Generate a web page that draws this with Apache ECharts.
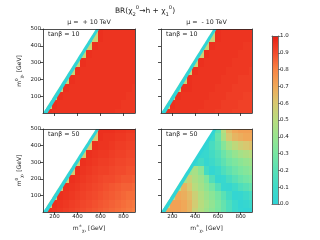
<!DOCTYPE html>
<html><head><meta charset="utf-8">
<script src="https://cdn.jsdelivr.net/npm/echarts@6/dist/echarts.min.js"></script>
<style>html,body{margin:0;padding:0;background:#fff}#c{width:320px;height:240px}</style>
</head><body><div id="c"></div>
<script>
// ---- data ----
const N = null;
const xs = [100,150,200,250,300,350,400,450,500,550,600,650,700,750,800,850,900]; // m_chi± cell centres [GeV]
const ys = [0,50,100,150,200,250,300,350,400,450,500];                              // m_chi1^0 cell centres [GeV]
const xTicks = [200,400,600,800];
const yTicks = [100,200,300,400,500];
const cbTicks = [0,0.1,0.2,0.3,0.4,0.5,0.6,0.7,0.8,0.9,1.0];
const kinEdge = [[100,0],[560,500]];   // kinematic edge (white region to the left)
const zeroEdge = [[140,0],[590,500]];  // BR = 0 strip between kinEdge and this line

// rows bottom (y=0) -> top (y=500)
const valsTL = [
 [0,0.96,0.95,0.95,0.95,0.95,0.95,0.95,0.95,0.95,0.95,0.95,0.95,0.94,0.94,0.94,0.94],
 [N,0.55,0.96,0.95,0.95,0.95,0.95,0.95,0.95,0.95,0.95,0.95,0.95,0.95,0.94,0.94,0.94],
 [N,N,0.55,0.96,0.95,0.95,0.95,0.95,0.95,0.95,0.95,0.95,0.95,0.95,0.95,0.94,0.94],
 [N,N,0,0.55,0.96,0.95,0.95,0.95,0.95,0.95,0.95,0.95,0.95,0.95,0.95,0.95,0.94],
 [N,N,N,0,0.55,0.96,0.95,0.95,0.95,0.95,0.95,0.95,0.95,0.95,0.95,0.95,0.95],
 [N,N,N,N,0,0.55,0.96,0.95,0.95,0.95,0.95,0.95,0.95,0.95,0.95,0.95,0.95],
 [N,N,N,N,N,0,0.55,0.96,0.95,0.95,0.95,0.95,0.95,0.95,0.95,0.95,0.95],
 [N,N,N,N,N,N,0,0.55,0.96,0.95,0.95,0.95,0.95,0.95,0.95,0.95,0.95],
 [N,N,N,N,N,N,N,0,0.55,0.96,0.95,0.95,0.95,0.95,0.95,0.95,0.95],
 [N,N,N,N,N,N,N,N,0,0.55,0.96,0.95,0.95,0.95,0.95,0.95,0.95],
 [N,N,N,N,N,N,N,N,N,0.55,0.96,0.95,0.95,0.95,0.95,0.95,0.95]
];
const valsTR = [
 [0,0.96,0.95,0.95,0.95,0.95,0.95,0.94,0.94,0.94,0.93,0.93,0.93,0.92,0.92,0.92,0.92],
 [N,0.55,0.96,0.95,0.95,0.95,0.95,0.95,0.94,0.94,0.94,0.93,0.93,0.93,0.92,0.92,0.92],
 [N,N,0.55,0.96,0.95,0.95,0.95,0.95,0.95,0.94,0.94,0.94,0.93,0.93,0.93,0.92,0.92],
 [N,N,0,0.55,0.96,0.96,0.95,0.95,0.95,0.95,0.94,0.94,0.94,0.93,0.93,0.93,0.93],
 [N,N,N,0,0.55,0.96,0.95,0.95,0.95,0.95,0.95,0.94,0.94,0.94,0.93,0.93,0.93],
 [N,N,N,N,0,0.55,0.96,0.95,0.95,0.95,0.95,0.95,0.94,0.94,0.94,0.94,0.93],
 [N,N,N,N,N,0,0.55,0.96,0.95,0.95,0.95,0.95,0.95,0.94,0.94,0.94,0.94],
 [N,N,N,N,N,N,0,0.55,0.96,0.95,0.95,0.95,0.95,0.95,0.94,0.94,0.94],
 [N,N,N,N,N,N,N,0,0.55,0.96,0.95,0.95,0.95,0.95,0.95,0.94,0.94],
 [N,N,N,N,N,N,N,N,0,0.55,0.96,0.95,0.95,0.95,0.95,0.95,0.95],
 [N,N,N,N,N,N,N,N,N,0.55,0.96,0.95,0.95,0.95,0.95,0.95,0.95]
];
const valsBL = [
 [0,0.96,0.95,0.94,0.93,0.92,0.91,0.90,0.89,0.88,0.87,0.86,0.85,0.84,0.83,0.82,0.81],
 [N,0.6,0.96,0.95,0.94,0.93,0.92,0.91,0.90,0.89,0.88,0.87,0.86,0.85,0.84,0.83,0.82],
 [N,N,0.6,0.96,0.95,0.94,0.93,0.92,0.91,0.90,0.89,0.88,0.87,0.86,0.85,0.84,0.84],
 [N,N,0,0.6,0.96,0.95,0.94,0.93,0.92,0.91,0.90,0.89,0.88,0.87,0.86,0.86,0.85],
 [N,N,N,0,0.6,0.96,0.95,0.94,0.93,0.92,0.91,0.90,0.90,0.89,0.88,0.88,0.87],
 [N,N,N,N,0,0.6,0.96,0.95,0.94,0.93,0.92,0.92,0.91,0.90,0.90,0.89,0.89],
 [N,N,N,N,N,0,0.6,0.96,0.95,0.94,0.93,0.93,0.92,0.91,0.91,0.90,0.90],
 [N,N,N,N,N,N,0,0.6,0.96,0.95,0.94,0.94,0.93,0.92,0.92,0.91,0.91],
 [N,N,N,N,N,N,N,0,0.6,0.96,0.95,0.95,0.94,0.93,0.93,0.92,0.92],
 [N,N,N,N,N,N,N,N,0,0.6,0.96,0.95,0.95,0.94,0.94,0.93,0.93],
 [N,N,N,N,N,N,N,N,N,0.6,0.96,0.96,0.96,0.95,0.95,0.94,0.94]
];
const valsBR = [
 [0,0.70,0.72,0.72,0.70,0.66,0.55,0.48,0.42,0.36,0.30,0.24,0.16,0.08,0.03,0.01,0.02],
 [N,0.50,0.72,0.72,0.70,0.66,0.58,0.50,0.44,0.38,0.31,0.24,0.16,0.08,0.02,0.04,0.08],
 [N,N,0.50,0.70,0.68,0.64,0.56,0.48,0.42,0.36,0.29,0.21,0.12,0.03,0.04,0.09,0.14],
 [N,N,0,0.50,0.66,0.60,0.50,0.44,0.37,0.29,0.18,0.05,0.04,0.10,0.16,0.20,0.24],
 [N,N,N,0,0.45,0.55,0.47,0.42,0.32,0.17,0.04,0.06,0.14,0.20,0.25,0.28,0.31],
 [N,N,N,N,0,0.40,0.45,0.36,0.12,0.03,0.08,0.16,0.22,0.27,0.31,0.34,0.37],
 [N,N,N,N,N,0,0.08,0.12,0.04,0.09,0.15,0.22,0.28,0.32,0.36,0.39,0.42],
 [N,N,N,N,N,N,0,0.05,0.06,0.12,0.18,0.26,0.33,0.39,0.44,0.47,0.50],
 [N,N,N,N,N,N,N,0,0.05,0.14,0.22,0.34,0.45,0.52,0.57,0.60,0.62],
 [N,N,N,N,N,N,N,N,0,0.08,0.25,0.45,0.60,0.66,0.68,0.70,0.70],
 [N,N,N,N,N,N,N,N,N,0.10,0.20,0.50,0.64,0.70,0.72,0.72,0.72]
];

// ---- style ----
const FONT = 'DejaVu Sans';
const TXT = '#222';
const cmap = ['#30d4d6','#3edac8','#58e0b6','#78e6a2','#98e48e','#b8dc7e','#d8c870','#f0a858','#f88444','#f24a2c','#e81e14'];
const xMin = 100, xMax = 900, yMin = 0, yMax = 500;
const HX = (xs[1]-xs[0])/2, HY = (ys[1]-ys[0])/2;

const grids = [
  {left:43, top:29, width:92, height:84},
  {left:161, top:29, width:91, height:84},
  {left:43, top:129, width:92, height:83},
  {left:161, top:129, width:91, height:83},
  {left:272, top:36, width:6, height:168}
];
const panels = [
  {vals: valsTL, xl:false, yl:true,  tan:'tanβ = 10'},
  {vals: valsTR, xl:false, yl:false, tan:'tanβ = 10'},
  {vals: valsBL, xl:true,  yl:true,  tan:'tanβ = 50'},
  {vals: valsBR, xl:true,  yl:false, tan:'tanβ = 50'}
];

const line = {show:true, onZero:false, lineStyle:{color:'#222', width:0.8}};
const lbl = (show, vals) => ({show, customValues: vals, fontSize:5.5, margin:2, color:TXT, fontFamily:FONT});
const richName = {
  n:{fontSize:6, fontFamily:FONT, color:TXT, lineHeight:9},
  sb:{fontSize:4.2, fontFamily:FONT, color:TXT, verticalAlign:'bottom', lineHeight:9},
  sp:{fontSize:4.2, fontFamily:FONT, color:TXT, verticalAlign:'top', lineHeight:9}
};

// extend a data-space line beyond the plot so clipping gives clean edges
const ext = (e0, e1, t) => [e0[0] + (e1[0]-e0[0])*t, e0[1] + (e1[1]-e0[1])*t];

const xAxis = [], yAxis = [], series = [];
panels.forEach((p, i) => {
  xAxis.push({gridIndex:i, type:'value', min:xMin, max:xMax, z:5, axisLine:line,
    axisTick:{show:true, length:3, customValues:xTicks, lineStyle:{color:'#222', width:0.8}},
    axisLabel: lbl(p.xl, xTicks), splitLine:{show:false},
    name: p.xl ? '{n|m}{sp|±}{sb|χ₁}{n| [GeV]}' : '', nameLocation:'middle', nameGap:12,
    nameTextStyle:{rich:richName}});
  xAxis.push({gridIndex:i, type:'value', position:'top', min:xMin, max:xMax, z:5, axisLine:line,
    axisTick:{show:false}, axisLabel:{show:false}, splitLine:{show:false}});
  yAxis.push({gridIndex:i, type:'value', min:yMin, max:yMax, z:5, axisLine:line,
    axisTick:{show:true, length:3, customValues:yTicks, lineStyle:{color:'#222', width:0.8}},
    axisLabel: lbl(p.yl, yTicks), splitLine:{show:false},
    name: p.yl ? '{n|m}{sp|0}{sb|χ₁}{n| [GeV]}' : '', nameLocation:'middle', nameGap:19,
    nameTextStyle:{rich:richName}});
  yAxis.push({gridIndex:i, type:'value', position:'right', min:yMin, max:yMax, z:5, axisLine:line,
    axisTick:{show:false}, axisLabel:{show:false}, splitLine:{show:false}});

  const data = [];
  p.vals.forEach((row, r) => row.forEach((v, c) => { if (v !== null) data.push([xs[c], ys[r], v]); }));
  series.push({type:'custom', xAxisIndex:2*i, yAxisIndex:2*i, clip:true, z:2, silent:true,
    data, renderItem:(params, api) => {
      const x = api.value(0), y = api.value(1);
      const a = api.coord([x - HX, y + HY]), b = api.coord([x + HX, y - HY]);
      const x0 = Math.round(a[0]), y0 = Math.round(a[1]);
      return {type:'rect', shape:{x:x0, y:y0, width:Math.round(b[0])-x0, height:Math.round(b[1])-y0},
        style:{fill: api.visual('color')}};
    }});
  // BR = 0 strip and the kinematically forbidden (white) region
  series.push({type:'custom', xAxisIndex:2*i, yAxisIndex:2*i, clip:true, z:3, silent:true,
    data:[[0]],
    renderItem:(params, api) => {
      const k0 = ext(kinEdge[0], kinEdge[1], -0.2), k1 = ext(kinEdge[0], kinEdge[1], 1.2);
      const z0 = ext(zeroEdge[0], zeroEdge[1], -0.2), z1 = ext(zeroEdge[0], zeroEdge[1], 1.2);
      const strip = [z0, z1, k1, k0].map(q => api.coord(q));
      const white = [k0, k1, [xMin-300, k1[1]], [xMin-300, k0[1]]].map(q => api.coord(q));
      return {type:'group', children:[
        {type:'polygon', shape:{points:strip}, style:{fill:cmap[0]}},
        {type:'polygon', shape:{points:white}, style:{fill:'#fff'}}
      ]};
    }});
});

// colorbar
const cbLine = {show:true, onZero:false, lineStyle:{color:'#555', width:0.8}};
xAxis.push({gridIndex:4, type:'value', min:0, max:1, z:5, axisLine:cbLine, axisTick:{show:false}, axisLabel:{show:false}, splitLine:{show:false}});
xAxis.push({gridIndex:4, type:'value', position:'top', min:0, max:1, z:5, axisLine:cbLine, axisTick:{show:false}, axisLabel:{show:false}, splitLine:{show:false}});
yAxis.push({gridIndex:4, type:'value', position:'right', min:0, max:1, z:5, axisLine:cbLine,
  axisTick:{show:true, length:2.5, customValues:cbTicks, lineStyle:{color:'#555', width:0.8}},
  axisLabel:{show:true, customValues:cbTicks, fontSize:5.5, margin:2, color:TXT, fontFamily:FONT, formatter:v=>v.toFixed(1)},
  splitLine:{show:false}});
yAxis.push({gridIndex:4, type:'value', position:'left', min:0, max:1, z:5, axisLine:cbLine, axisTick:{show:false}, axisLabel:{show:false}, splitLine:{show:false}});
series.push({type:'custom', xAxisIndex:8, yAxisIndex:8, silent:true, z:2,
  data:[[cbTicks[0], cbTicks[cbTicks.length-1]]],
  renderItem:(params, api) => {
    const a = api.coord([0, api.value(1)]), b = api.coord([1, api.value(0)]);
    return {type:'rect', shape:{x:a[0], y:a[1], width:b[0]-a[0], height:b[1]-a[1]},
      style:{fill:{type:'linear', x:0, y:1, x2:0, y2:0,
        colorStops: cmap.map((c, k) => ({offset:k/(cmap.length-1), color:c}))}}};
  }});

const t = (x, y, text, align, size) => ({type:'text', x, y, z:10, silent:true,
  style:{text, fontSize:size, fontFamily:FONT, fill:TXT, align, verticalAlign:'middle'}});
const graphic = [
  {type:'text', x:145, y:11, z:10, silent:true, style:{
    text:'{n|BR(χ}{sb|2}{sp|0}{n|→h + χ}{sb|1}{sp|0}{n|)}', align:'center', verticalAlign:'middle',
    rich:{n:{fontSize:7.5, fontFamily:FONT, fill:TXT, lineHeight:12},
          sb:{fontSize:5.2, fontFamily:FONT, fill:TXT, verticalAlign:'bottom', lineHeight:12},
          sp:{fontSize:5.2, fontFamily:FONT, fill:TXT, verticalAlign:'top', lineHeight:12}}}},
  t(89, 22, 'μ =  + 10 TeV', 'center', 6.3),
  t(206.5, 22, 'μ =  - 10 TeV', 'center', 6.3),
  t(48, 34, panels[0].tan, 'left', 6.3),
  t(166, 34, panels[1].tan, 'left', 6.3),
  t(48, 134, panels[2].tan, 'left', 6.3),
  t(166, 134, panels[3].tan, 'left', 6.3)
];

const chart = echarts.init(document.getElementById('c'), null, {renderer:'canvas'});
chart.setOption({
  animation:false,
  backgroundColor:'#fff',
  grid: grids,
  xAxis, yAxis, series, graphic,
  visualMap:{type:'continuous', show:false, min:0, max:1, dimension:2, seriesIndex:[0,2,4,6],
    inRange:{color:cmap}}
});
</script></body></html>
